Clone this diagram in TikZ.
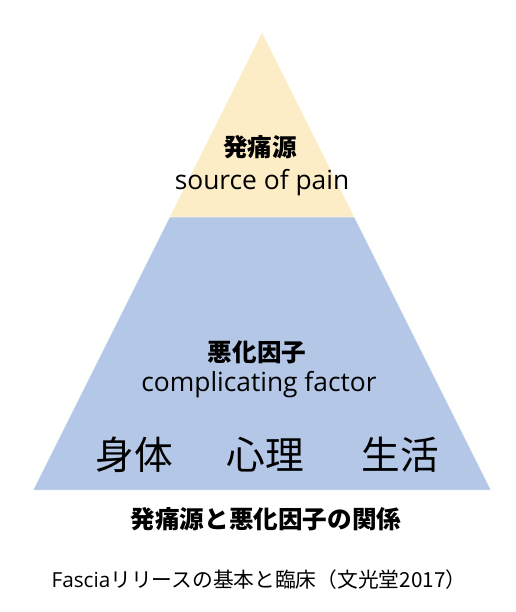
\documentclass[tikz,border=0pt]{standalone}
\usepackage{fontspec}
\setmainfont{Open Sans}
\newfontfamily\jp{Noto Sans CJK JP}
\usetikzlibrary{positioning}
\definecolor{painyellow}{HTML}{FDEDC6}
\definecolor{factorblue}{HTML}{B4C7E7}

\begin{document}
\begin{tikzpicture}[x=0.03cm,y=-0.03cm]
\useasboundingbox (0,0) rectangle (516,612);
\draw[fill=factorblue,draw=white,thin] (169.5,217) -- (354.5,217) -- (491,490) -- (33,490) -- cycle;
\draw[fill=painyellow,draw=white,thin] (262,32) -- (354.5,217) -- (169.5,217) -- cycle;

\node[font=\jp\fontsize{21}{25}\selectfont\bfseries, anchor=center] (srcjp) at (260,147) {発痛源};
\node[font=\fontsize{22.5}{26}\selectfont, anchor=center] (srcen) at (262,183) {source of pain};
\node[font=\jp\fontsize{21}{25}\selectfont\bfseries, anchor=center] (cfjp) at (257,352) {悪化因子};
\node[font=\fontsize{22.5}{26}\selectfont, anchor=center] (cfen) at (259,385) {complicating factor};

\node[font=\jp\fontsize{33}{38}\selectfont, anchor=center] (body) at (134,455) {身体};
\node[font=\jp\fontsize{33}{38}\selectfont, anchor=center] (mind) at (265,455) {心理};
\node[font=\jp\fontsize{33}{38}\selectfont, anchor=center] (life) at (400,455) {生活};

\node[font=\jp\fontsize{21}{25}\selectfont\bfseries, anchor=center] (caption) at (266,519) {発痛源と悪化因子の関係};
\node[font=\fontsize{17.7}{21}\selectfont, anchor=center] (ref) at (259,580) {Fascia{\jp リリースの基本と臨床（文光堂2017）}};

\end{tikzpicture}
\end{document}
